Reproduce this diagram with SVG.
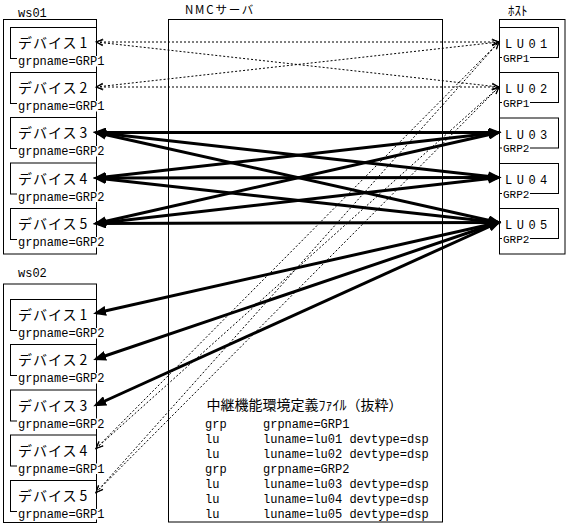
<svg xmlns="http://www.w3.org/2000/svg" width="572" height="532" viewBox="0 0 572 532">
<style>
.box{fill:none;stroke:#000;stroke-width:1}
.jp{font-family:"Noto Sans CJK JP","Noto Sans CJK SC",sans-serif;fill:#000}
.mono{font-family:"Liberation Mono","DejaVu Sans Mono",monospace;fill:#000}
.dev{font-size:14px;letter-spacing:1px}
.grp{font-size:12px}
.lu{font-size:12px;letter-spacing:4.5px}
.hg{font-size:11px}
.lbl{font-size:12px}
.code{font-size:12px}
.bg{fill:#fff}
.thick{stroke:#000;stroke-width:3;fill:none;marker-start:url(#ah);marker-end:url(#ah)}
.dot{stroke:#000;stroke-width:1;stroke-dasharray:2 2;fill:none;marker-start:url(#dh);marker-end:url(#dh)}
</style>
<defs>
<marker id="ah" viewBox="0 0 13 10" markerWidth="13" markerHeight="10" refX="10" refY="5" orient="auto-start-reverse" markerUnits="userSpaceOnUse"><path d="M0,0 L13,5 L0,10 z" fill="#000"/></marker>
<marker id="dh" viewBox="0 0 7 6" markerWidth="7" markerHeight="6" refX="7" refY="3" orient="auto-start-reverse" markerUnits="userSpaceOnUse" overflow="visible"><path d="M0,0 L7,3 L0,6" fill="none" stroke="#000" stroke-width="1"/></marker>
</defs>
<rect x="0" y="0" width="572" height="532" fill="#fff"/>

<g id="ws01">
<text class="mono lbl" x="18" y="17">ws01</text>
<rect class="box" x="3.5" y="19.5" width="93" height="234.5"/>
<g id="ws01-dev1">
<rect class="box" x="10.5" y="27.5" width="86" height="31"/>
<text class="jp dev" x="18" y="48">デバイス<tspan dx="2">1</tspan></text>
<rect class="bg" x="17" y="56" width="88" height="10.5"/>
<text class="mono grp" x="18" y="65">grpname=GRP1</text>
</g>
<g id="ws01-dev2">
<rect class="box" x="10.5" y="72.5" width="86" height="31"/>
<text class="jp dev" x="18" y="93">デバイス<tspan dx="2">2</tspan></text>
<rect class="bg" x="17" y="101" width="88" height="10.5"/>
<text class="mono grp" x="18" y="110">grpname=GRP1</text>
</g>
<g id="ws01-dev3">
<rect class="box" x="10.5" y="117.5" width="86" height="31"/>
<text class="jp dev" x="18" y="138">デバイス<tspan dx="2">3</tspan></text>
<rect class="bg" x="17" y="146" width="88" height="10.5"/>
<text class="mono grp" x="18" y="155">grpname=GRP2</text>
</g>
<g id="ws01-dev4">
<rect class="box" x="10.5" y="163" width="86" height="31"/>
<text class="jp dev" x="18" y="183.5">デバイス<tspan dx="2">4</tspan></text>
<rect class="bg" x="17" y="191.5" width="88" height="10.5"/>
<text class="mono grp" x="18" y="200.5">grpname=GRP2</text>
</g>
<g id="ws01-dev5">
<rect class="box" x="10.5" y="208.5" width="86" height="31"/>
<text class="jp dev" x="18" y="229">デバイス<tspan dx="2">5</tspan></text>
<rect class="bg" x="17" y="237" width="88" height="10.5"/>
<text class="mono grp" x="18" y="246">grpname=GRP2</text>
</g>
</g>

<g id="ws02">
<text class="mono lbl" x="18" y="277">ws02</text>
<rect class="box" x="3.5" y="284" width="93" height="238.5"/>
<g id="ws02-dev1">
<rect class="box" x="10.5" y="299.5" width="86" height="31"/>
<text class="jp dev" x="18" y="320">デバイス<tspan dx="2">1</tspan></text>
<rect class="bg" x="17" y="328" width="88" height="10.5"/>
<text class="mono grp" x="18" y="337">grpname=GRP2</text>
</g>
<g id="ws02-dev2">
<rect class="box" x="10.5" y="344.5" width="86" height="31"/>
<text class="jp dev" x="18" y="365">デバイス<tspan dx="2">2</tspan></text>
<rect class="bg" x="17" y="373" width="88" height="10.5"/>
<text class="mono grp" x="18" y="382">grpname=GRP2</text>
</g>
<g id="ws02-dev3">
<rect class="box" x="10.5" y="390" width="86" height="31"/>
<text class="jp dev" x="18" y="410.5">デバイス<tspan dx="2">3</tspan></text>
<rect class="bg" x="17" y="418.5" width="88" height="10.5"/>
<text class="mono grp" x="18" y="427.5">grpname=GRP2</text>
</g>
<g id="ws02-dev4">
<rect class="box" x="10.5" y="435" width="86" height="31"/>
<text class="jp dev" x="18" y="455.5">デバイス<tspan dx="2">4</tspan></text>
<rect class="bg" x="17" y="463.5" width="88" height="10.5"/>
<text class="mono grp" x="18" y="472.5">grpname=GRP1</text>
</g>
<g id="ws02-dev5">
<rect class="box" x="10.5" y="480.5" width="86" height="31"/>
<text class="jp dev" x="18" y="501">デバイス<tspan dx="2">5</tspan></text>
<rect class="bg" x="17" y="509" width="88" height="10.5"/>
<text class="mono grp" x="18" y="518">grpname=GRP1</text>
</g>
</g>

<g id="nmc">
<text class="jp" font-size="11.5" x="185" y="14" letter-spacing="1.8">NMCサーバ</text>
<rect class="box" x="168.5" y="19.5" width="274" height="502.5"/>
<g id="nmc-file">
<text class="jp" font-size="14" x="206.5" y="410">中継機能環境定義ﾌｧｲﾙ（抜粋）</text>
<text class="mono code" x="205" y="427.5">grp</text><text class="mono code" x="263" y="427.5">grpname=GRP1</text>
<text class="mono code" x="205" y="442.5">lu</text><text class="mono code" x="263" y="442.5">luname=lu01 devtype=dsp</text>
<text class="mono code" x="205" y="457.5">lu</text><text class="mono code" x="263" y="457.5">luname=lu02 devtype=dsp</text>
<text class="mono code" x="205" y="472.5">grp</text><text class="mono code" x="263" y="472.5">grpname=GRP2</text>
<text class="mono code" x="205" y="487.5">lu</text><text class="mono code" x="263" y="487.5">luname=lu03 devtype=dsp</text>
<text class="mono code" x="205" y="502.5">lu</text><text class="mono code" x="263" y="502.5">luname=lu04 devtype=dsp</text>
<text class="mono code" x="205" y="517.5">lu</text><text class="mono code" x="263" y="517.5">luname=lu05 devtype=dsp</text>
</g>
</g>

<g id="host">
<text class="jp" font-size="13" x="508" y="15">ﾎｽﾄ</text>
<rect class="box" x="499.5" y="19.5" width="65.5" height="234.5"/>
<g id="host-lu01">
<rect class="box" x="499.5" y="27.5" width="59" height="30"/>
<text class="mono lu" x="505" y="48">LU01</text>
<rect class="bg" x="502" y="52.5" width="28" height="10"/>
<text class="mono hg" x="503" y="61.5">GRP1</text>
</g>
<g id="host-lu02">
<rect class="box" x="499.5" y="72.5" width="59" height="30"/>
<text class="mono lu" x="505" y="93">LU02</text>
<rect class="bg" x="502" y="97.5" width="28" height="10"/>
<text class="mono hg" x="503" y="106.5">GRP1</text>
</g>
<g id="host-lu03">
<rect class="box" x="499.5" y="118" width="59" height="30"/>
<text class="mono lu" x="505" y="138.5">LU03</text>
<rect class="bg" x="502" y="143" width="28" height="10"/>
<text class="mono hg" x="503" y="152">GRP2</text>
</g>
<g id="host-lu04">
<rect class="box" x="499.5" y="163.5" width="59" height="30"/>
<text class="mono lu" x="505" y="184">LU04</text>
<rect class="bg" x="502" y="188.5" width="28" height="10"/>
<text class="mono hg" x="503" y="197.5">GRP2</text>
</g>
<g id="host-lu05">
<rect class="box" x="499.5" y="208.5" width="59" height="30"/>
<text class="mono lu" x="505" y="229">LU05</text>
<rect class="bg" x="502" y="233.5" width="28" height="10"/>
<text class="mono hg" x="503" y="242.5">GRP2</text>
</g>
</g>

<g id="connectors">
<path class="dot" d="M96,42 L499,42"/>
<path class="dot" d="M96,42 L499,87"/>
<path class="dot" d="M96,87 L499,87"/>
<path class="dot" d="M96,87 L499,42"/>
<path class="dot" d="M96,448.5 L499,42"/>
<path class="dot" d="M96,448.5 L499,87"/>
<path class="dot" d="M96,492.5 L499,42"/>
<path class="dot" d="M96,492.5 L499,87"/>
<path class="thick" d="M96,132.5 L498.5,132.5"/>
<path class="thick" d="M96,132.5 L498.5,177.5"/>
<path class="thick" d="M96,132.5 L498.5,222.5"/>
<path class="thick" d="M96,178 L498.5,132.5"/>
<path class="thick" d="M96,178 L498.5,177.5"/>
<path class="thick" d="M96,178 L498.5,222.5"/>
<path class="thick" d="M96,223.5 L498.5,132.5"/>
<path class="thick" d="M96,223.5 L498.5,177.5"/>
<path class="thick" d="M96,223.5 L498.5,222.5"/>
<path class="thick" d="M96,313 L498.5,222.5"/>
<path class="thick" d="M96,359 L498.5,222.5"/>
<path class="thick" d="M96,405 L498.5,222.5"/>
</g>
</svg>
